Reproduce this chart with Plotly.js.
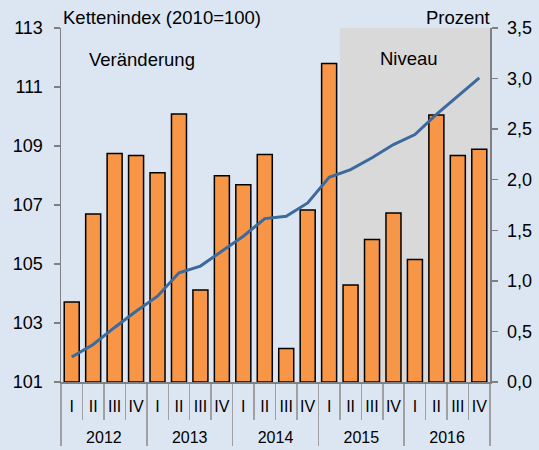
<!DOCTYPE html>
<html>
<head>
<meta charset="utf-8">
<script src="https://cdn.plot.ly/plotly-3.0.1.min.js"></script>
<style>html,body{margin:0;padding:0;background:#DCE6F2;}#chart{width:539px;height:450px;}</style>
</head>
<body>
<div id="chart"></div>
<script>
var years = ['2012', '2013', '2014', '2015', '2016'];
var quarters = ['I', 'II', 'III', 'IV'];
// Veränderung (Prozent, rechte Achse)
var changePct = [0.79, 1.66, 2.26, 2.24, 2.07, 2.65, 0.91, 2.04, 1.95, 2.25, 0.33, 1.70,
                 3.15, 0.96, 1.41, 1.67, 1.21, 2.64, 2.24, 2.30];
// Niveau (Kettenindex 2010=100, linke Achse)
var levelIndex = [101.85, 102.27, 102.85, 103.4, 103.91, 104.7, 104.93, 105.43, 105.94, 106.54, 106.62, 107.07,
                  107.94, 108.2, 108.6, 109.05, 109.39, 110.07, 110.69, 111.31];

var xYears = [], xQuarters = [];
years.forEach(function (y) { quarters.forEach(function (q) { xYears.push('<br>' + y); xQuarters.push(q); }); });
var xcat = [xYears, xQuarters];

var font = 'Liberation Sans, Arial, sans-serif';
var traces = [
  {type: 'bar', x: xcat, y: changePct, yaxis: 'y', width: 0.7,
   marker: {color: '#F79646', line: {color: '#000000', width: 1.5}}, hoverinfo: 'y'},
  {type: 'scatter', mode: 'lines', x: xcat, y: levelIndex, yaxis: 'y2',
   line: {color: '#3C6A9E', width: 3}, hoverinfo: 'y'}
];

var layout = {
  width: 539, height: 450,
  margin: {l: 61, r: 49, t: 28, b: 68},
  paper_bgcolor: '#DCE6F2', plot_bgcolor: '#DCE6F2',
  separators: ', ',
  showlegend: false,
  font: {family: font, size: 18, color: '#000'},
  bargap: 0.3,
  xaxis: {
    type: 'multicategory', showline: true, linecolor: '#808080', linewidth: 1.5,
    ticks: 'outside', tickson: 'boundaries', ticklen: 36, tickcolor: '#A0A0A0', tickwidth: 1.5,
    showdividers: true, dividercolor: '#A0A0A0', dividerwidth: 1.5, tickangle: 0,
    ticklabelstandoff: 9,
    tickfont: {size: 16, family: font, color: '#000'}, showgrid: false, zeroline: false
  },
  yaxis: {
    side: 'right', range: [0, 3.5], dtick: 0.5, tick0: 0, tickformat: '.1f',
    showline: true, linecolor: '#808080', linewidth: 1.5, ticks: 'outside', ticklen: 6,
    tickcolor: '#808080', tickwidth: 1.5, showgrid: false, zeroline: false,
    tickfont: {size: 18, family: font}, ticklabelstandoff: 6
  },
  yaxis2: {
    overlaying: 'y', side: 'left', range: [101, 113], dtick: 2, tick0: 101,
    showline: true, linecolor: '#808080', linewidth: 1.5, ticks: 'outside', ticklen: 6,
    tickcolor: '#808080', tickwidth: 1.5, showgrid: false, zeroline: false,
    tickfont: {size: 18, family: font}, ticklabelstandoff: 7
  },
  shapes: [
    {type: 'rect', layer: 'below', xref: 'x', yref: 'paper', x0: 12.5, x1: 19.5, y0: 0, y1: 1,
     fillcolor: '#D9D9D9', line: {width: 0}}
  ],
  annotations: [
    {text: 'Kettenindex (2010=100)', xref: 'paper', yref: 'paper', x: 0, y: 1, xanchor: 'left', yanchor: 'bottom',
     showarrow: false, font: {size: 18.5}, yshift: -2},
    {text: 'Prozent', xref: 'paper', yref: 'paper', x: 1, y: 1, xanchor: 'right', yanchor: 'bottom',
     showarrow: false, font: {size: 18.5}, yshift: -2, xshift: 2},
    {text: 'Veränderung', xref: 'paper', yref: 'paper', x: 0.06, y: 0.91, xanchor: 'left', yanchor: 'middle',
     showarrow: false, font: {size: 18.5}},
    {text: 'Niveau', xref: 'paper', yref: 'paper', x: 0.74, y: 0.915, xanchor: 'left', yanchor: 'middle',
     showarrow: false, font: {size: 18.5}}
  ]
};

Plotly.newPlot('chart', traces, layout, {displayModeBar: false, staticPlot: true});
</script>
</body>
</html>
